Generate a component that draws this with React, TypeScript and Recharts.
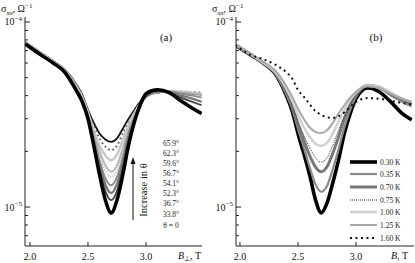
import { LineChart, Line, XAxis, YAxis } from 'recharts';

// magnetic field grid, T
const B_FIELD = [1.96, 2.1, 2.2, 2.3, 2.4, 2.45, 2.5, 2.55, 2.6, 2.65, 2.7, 2.75, 2.8, 2.85, 2.9, 2.95, 3.0, 3.1, 3.2, 3.3, 3.4, 3.48];

// panel (a): sigma_xx in units of 1e-5 Ohm^-1, one array per tilt angle
const ANGLE_LABELS = ['65.9°', '62.3°', '59.6°', '56.7°', '54.1°', '52.3°', '36.7°', '33.8°', 'θ = 0'];
const SIG_659 = [7.8, 6.8, 6.15, 5.55, 4.6, 4.05, 3.35, 2.85, 2.5, 2.32, 2.25, 2.35, 2.65, 3.0, 3.35, 3.7, 3.98, 4.15, 4.2, 4.15, 4.1, 4.05];
const SIG_623 = [7.8, 6.8, 6.15, 5.5, 4.55, 4.0, 3.3, 2.75, 2.35, 2.12, 2.03, 2.15, 2.5, 2.9, 3.3, 3.68, 3.95, 4.15, 4.2, 4.2, 4.18, 4.15];
const SIG_596 = [7.8, 6.8, 6.1, 5.5, 4.5, 3.95, 3.25, 2.6, 2.15, 1.9, 1.79, 1.92, 2.3, 2.78, 3.22, 3.62, 3.95, 4.18, 4.22, 4.2, 4.15, 4.1];
const SIG_567 = [7.7, 6.7, 6.1, 5.45, 4.45, 3.9, 3.2, 2.5, 2.0, 1.68, 1.55, 1.68, 2.08, 2.62, 3.12, 3.58, 3.95, 4.2, 4.22, 4.18, 4.12, 4.05];
const SIG_541 = [7.7, 6.7, 6.05, 5.45, 4.4, 3.85, 3.15, 2.45, 1.9, 1.57, 1.45, 1.58, 1.98, 2.55, 3.08, 3.58, 3.95, 4.2, 4.22, 4.15, 4.08, 4.0];
const SIG_523 = [7.7, 6.7, 6.05, 5.4, 4.35, 3.8, 3.1, 2.35, 1.78, 1.43, 1.31, 1.45, 1.85, 2.48, 3.02, 3.55, 3.95, 4.2, 4.2, 4.1, 4.0, 3.9];
const SIG_367 = [7.6, 6.6, 6.0, 5.4, 4.3, 3.75, 3.05, 2.25, 1.68, 1.32, 1.19, 1.33, 1.72, 2.38, 2.98, 3.55, 3.95, 4.22, 4.18, 4.0, 3.85, 3.7];
const SIG_338 = [7.6, 6.6, 6.0, 5.35, 4.28, 3.72, 3.02, 2.2, 1.6, 1.22, 1.09, 1.22, 1.62, 2.28, 2.92, 3.55, 3.98, 4.27, 4.15, 3.9, 3.7, 3.55];
const SIG_0 = [7.6, 6.6, 6.0, 5.35, 4.25, 3.7, 3.0, 2.14, 1.49, 1.09, 0.93, 1.09, 1.49, 2.16, 2.88, 3.56, 4.1, 4.3, 4.15, 3.75, 3.42, 3.2];

// panel (b): sigma_xx in units of 1e-5 Ohm^-1, one array per temperature
const TEMP_LABELS = ['0.30 K', '0.35 K', '0.70 K', '0.75 K', '1.00 K', '1.25 K', '1.60 K'];
const SIG_T030 = [7.5, 6.6, 6.0, 5.3, 4.0, 3.3, 2.5, 1.95, 1.5, 1.1, 0.93, 1.05, 1.35, 1.8, 2.5, 3.2, 3.85, 4.4, 4.2, 3.7, 3.2, 2.96];
const SIG_T035 = [7.5, 6.6, 6.0, 5.3, 4.05, 3.4, 2.65, 2.1, 1.65, 1.33, 1.21, 1.3, 1.6, 2.05, 2.7, 3.35, 3.95, 4.5, 4.4, 4.0, 3.7, 3.5];
const SIG_T070 = [7.5, 6.6, 6.0, 5.35, 4.15, 3.5, 2.8, 2.3, 1.9, 1.65, 1.55, 1.65, 1.95, 2.4, 3.0, 3.55, 4.05, 4.55, 4.45, 4.1, 3.8, 3.6];
const SIG_T075 = [7.5, 6.6, 6.0, 5.35, 4.2, 3.55, 2.9, 2.45, 2.1, 1.85, 1.75, 1.85, 2.15, 2.6, 3.1, 3.6, 4.05, 4.55, 4.45, 4.1, 3.8, 3.6];
const SIG_T100 = [7.6, 6.65, 6.05, 5.4, 4.35, 3.75, 3.15, 2.7, 2.4, 2.2, 2.14, 2.22, 2.5, 2.9, 3.35, 3.8, 4.15, 4.55, 4.45, 4.15, 3.85, 3.7];
const SIG_T125 = [7.6, 6.7, 6.1, 5.5, 4.5, 3.95, 3.4, 3.0, 2.7, 2.55, 2.51, 2.6, 2.85, 3.2, 3.55, 3.9, 4.2, 4.5, 4.4, 4.1, 3.85, 3.7];
const SIG_T160 = [7.5, 6.6, 6.3, 5.9, 5.35, 4.95, 4.3, 3.95, 3.6, 3.3, 3.15, 3.06, 3.03, 3.1, 3.25, 3.48, 3.7, 3.88, 3.85, 3.75, 3.65, 3.58];

// axes
const X_TICKS = [2.0, 2.5, 3.0];
const Y_TICKS = [0.7, 0.8, 0.9, 1, 2, 3, 4, 5, 6, 7, 8, 9, 10];
const Y_DOMAIN: [number, number] = [0.616, 10.64];
const Y_MAJOR: Record<number, string> = { 1: '−5', 10: '−4' };

type Style = { stroke: string; width: number; dash?: string };

const STYLES_A: Style[] = [
  { stroke: '#111', width: 1.8 },
  { stroke: '#555', width: 2, dash: '1.5 3' },
  { stroke: '#c8c8c8', width: 2.5 },
  { stroke: '#b8b8b8', width: 2 },
  { stroke: '#a0a0a0', width: 1.4, dash: '1 1.5' },
  { stroke: '#8c8c8c', width: 2 },
  { stroke: '#777', width: 2.4 },
  { stroke: '#444', width: 1.8 },
  { stroke: '#000', width: 3.5 },
];

const STYLES_B: Style[] = [
  { stroke: '#000', width: 3.6 },
  { stroke: '#8a8a8a', width: 2.2 },
  { stroke: '#777', width: 3 },
  { stroke: '#333', width: 1, dash: '1 1' },
  { stroke: '#d0d0d0', width: 2.5 },
  { stroke: '#a8a8a8', width: 2 },
  { stroke: '#111', width: 2, dash: '2 3.5' },
];

const SERIES_A = [SIG_659, SIG_623, SIG_596, SIG_567, SIG_541, SIG_523, SIG_367, SIG_338, SIG_0];
const SERIES_B = [SIG_T030, SIG_T035, SIG_T070, SIG_T075, SIG_T100, SIG_T125, SIG_T160];

const rows = (series: number[][]) =>
  B_FIELD.map((b, i) => {
    const r: any = { b };
    series.forEach((s, k) => (r['s' + k] = s[i]));
    return r;
  });

const DATA_A = rows(SERIES_A);
const DATA_B = rows(SERIES_B);

const FONT = '"Liberation Serif", "Times New Roman", serif';

const YTick = ({ x, y, payload, side }: any) => {
  const v = payload.value;
  const major = Y_MAJOR[v] !== undefined;
  const len = major ? 5 : 3;
  const dir = side === 'left' ? 1 : -1;
  return (
    <g>
      <line x1={x} y1={y} x2={x + dir * len} y2={y} stroke="#222" strokeWidth={1} />
      {side === 'left' && major && (
        <text x={x - 3} y={y + 3.5} textAnchor="end" fontSize={10} fill="#111" fontFamily={FONT}>
          10<tspan dy={-4.5} fontSize={7}>{Y_MAJOR[v]}</tspan>
        </text>
      )}
    </g>
  );
};

const XTick = ({ x, y, payload, side }: any) => {
  const dir = side === 'bottom' ? -1 : 1;
  return (
    <g>
      <line x1={x} y1={y} x2={x} y2={y + dir * 4} stroke="#222" strokeWidth={1} />
      {side === 'bottom' && (
        <text x={x} y={y + 13.5} textAnchor="middle" fontSize={10} fill="#111" fontFamily={FONT}>
          {payload.value.toFixed(1)}
        </text>
      )}
    </g>
  );
};

function Panel({ data, styles, width, yWidth, right, xDomain }: any) {
  return (
    <LineChart width={width} height={263} data={data} margin={{ top: 17, right, bottom: 0, left: 0 }}>
      <XAxis dataKey="b" type="number" domain={xDomain} allowDataOverflow ticks={X_TICKS} height={17}
        tickSize={0} tickMargin={0} axisLine={{ stroke: '#222' }} tickLine={false}
        tick={<XTick side="bottom" />} interval={0} />
      <XAxis xAxisId="top" orientation="top" type="number" domain={xDomain} allowDataOverflow ticks={X_TICKS} height={0}
        tickSize={0} tickMargin={0} axisLine={{ stroke: '#222' }} tickLine={false}
        tick={<XTick side="top" />} interval={0} />
      <YAxis type="number" scale="log" domain={Y_DOMAIN} allowDataOverflow ticks={Y_TICKS} width={yWidth}
        tickSize={0} tickMargin={0} axisLine={{ stroke: '#222' }} tickLine={false}
        tick={<YTick side="left" />} interval={0} />
      <YAxis yAxisId="right" orientation="right" type="number" scale="log" domain={Y_DOMAIN} allowDataOverflow ticks={Y_TICKS} width={0}
        tickSize={0} tickMargin={0} axisLine={{ stroke: '#222' }} tickLine={false}
        tick={<YTick side="right" />} interval={0} />
      {styles.map((s: Style, k: number) => (
        <Line key={k} dataKey={'s' + k} type="monotone" stroke={s.stroke} strokeWidth={s.width}
          strokeDasharray={s.dash} dot={false} isAnimationActive={false} />
      ))}
    </LineChart>
  );
}

const SigmaLabel = ({ x }: { x: number }) => (
  <text x={x} y={12} fontSize={10} fill="#111" fontFamily={FONT}>
    σ<tspan dy={2.5} fontSize={7} fontStyle="italic">xx</tspan>
    <tspan dy={-2.5}>, Ω</tspan>
    <tspan dy={-4.5} fontSize={7}>−1</tspan>
  </text>
);

export default function App() {
  const legendYA = [143, 153, 163, 173, 183, 193, 203, 214, 225];
  const legendYB = [162, 174, 187, 200, 212, 225, 238];
  return (
    <div style={{ position: 'absolute', left: 0, top: 0, width: 415, height: 263, background: '#fff', fontFamily: FONT }}>
      <div style={{ position: 'absolute', left: 0, top: 0 }}>
        <Panel data={DATA_A} styles={STYLES_A} width={207} yWidth={25} right={5} xDomain={[1.957, 3.483]} />
      </div>
      <div style={{ position: 'absolute', left: 207, top: 0 }}>
        <Panel data={DATA_B} styles={STYLES_B} width={208} yWidth={29} right={1} xDomain={[1.966, 3.5]} />
      </div>
      <svg width={415} height={263} style={{ position: 'absolute', left: 0, top: 0, pointerEvents: 'none' }}>
        <SigmaLabel x={1} />
        <SigmaLabel x={212} />
        <text x={166} y={41} textAnchor="middle" fontSize={11} fill="#111" fontFamily={FONT}>(a)</text>
        <text x={376} y={41} textAnchor="middle" fontSize={11} fill="#111" fontFamily={FONT}>(b)</text>
        <text x={178} y={259} fontSize={10} fill="#111" fontFamily={FONT}>
          <tspan fontStyle="italic">B</tspan><tspan dy={2} fontSize={7}>⊥</tspan><tspan dy={-2}>, T</tspan>
        </text>
        <text x={391} y={259} fontSize={10} fill="#111" fontFamily={FONT}>
          <tspan fontStyle="italic">B</tspan>, T
        </text>
        {ANGLE_LABELS.map((t, i) => (
          <text key={t} x={171} y={legendYA[i] + 2.5} textAnchor="middle" fontSize={7.5} fill="#222" fontFamily={FONT}>{t}</text>
        ))}
        <line x1={133} y1={220} x2={133} y2={162} stroke="#111" strokeWidth={1} />
        <path d="M133 157 L130.5 164 L135.5 164 Z" fill="#111" />
        <text x={0} y={0} transform="translate(147 190) rotate(-90)" textAnchor="middle" fontSize={10.5} fill="#111" fontFamily={FONT}>
          Increase in θ
        </text>
        {TEMP_LABELS.map((t, i) => (
          <g key={t}>
            <line x1={350} x2={377} y1={legendYB[i]} y2={legendYB[i]} stroke={STYLES_B[i].stroke}
              strokeWidth={STYLES_B[i].width} strokeDasharray={STYLES_B[i].dash} />
            <text x={380} y={legendYB[i] + 2.7} fontSize={7.5} fill="#222" fontFamily={FONT}>{t}</text>
          </g>
        ))}
      </svg>
    </div>
  );
}
